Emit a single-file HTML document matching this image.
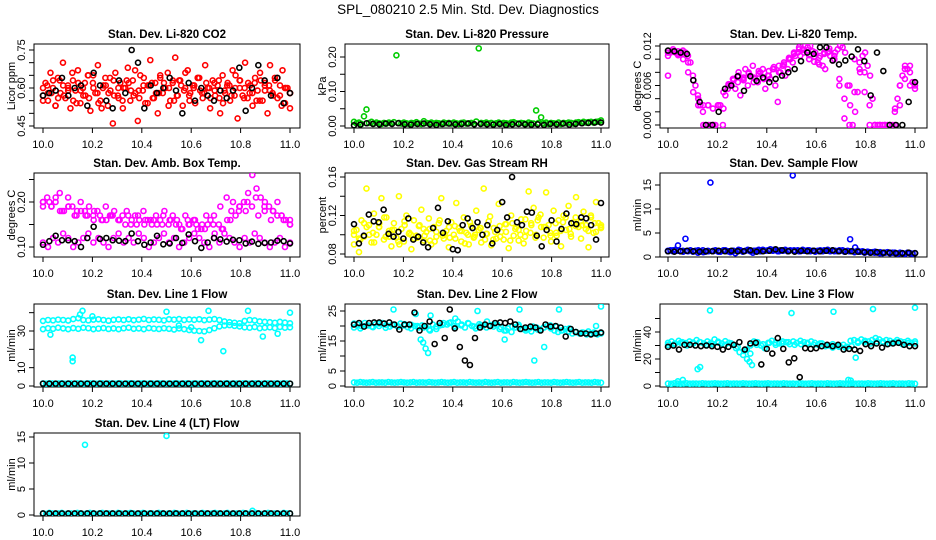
<!DOCTYPE html>
<html><head><meta charset="utf-8"><style>
html,body{margin:0;padding:0;background:#fff}
svg{display:block}
text{font-family:"Liberation Sans",Arial,sans-serif;fill:#000}
</style></head><body>
<svg id="chart" width="936" height="540" viewBox="0 0 936 540" xmlns="http://www.w3.org/2000/svg">
<text x="468" y="14" text-anchor="middle" font-size="13.5">SPL_080210  2.5 Min. Std. Dev. Diagnostics</text>
</svg>
<script>
// ---- data ----
const xTicks = [10.0,10.2,10.4,10.6,10.8,11.0];
const xTickLabels = ["10.0","10.2","10.4","10.6","10.8","11.0"];

const co2Red = [0.57,0.62,0.55,0.66,0.60,0.53,0.64,0.58,0.70,0.56,0.61,0.52,0.63,0.59,0.67,0.54,0.60,0.57,0.65,0.51,0.62,0.58,0.69,0.55,0.60,0.64,0.53,0.59,0.46,0.66,0.57,0.62,0.52,0.60,0.68,0.55,0.63,0.58,0.47,0.65,0.59,0.54,0.61,0.71,0.56,0.62,0.50,0.64,0.58,0.60,0.66,0.55,0.62,0.72,0.57,0.63,0.53,0.60,0.67,0.58,0.61,0.54,0.64,0.59,0.56,0.69,0.60,0.52,0.63,0.57,0.61,0.50,0.65,0.58,0.62,0.55,0.67,0.60,0.48,0.63,0.57,0.70,0.56,0.61,0.53,0.64,0.59,0.66,0.55,0.62,0.50,0.69,0.58,0.63,0.56,0.61,0.67,0.54,0.60,0.52];
const co2Red2 = [0.60,0.58,0.63,0.56,0.61,0.59,0.55,0.62,0.57,0.65,0.60,0.54,0.61,0.58,0.63,0.56,0.60,0.62,0.57,0.59,0.64,0.61,0.56,0.58,0.62,0.60,0.55,0.63,0.59,0.57,0.61,0.64,0.58,0.60,0.62,0.56,0.59,0.61,0.57,0.63,0.60,0.58,0.62,0.55,0.61,0.59,0.64,0.57,0.60,0.58];
const co2Red3 = [0.55,0.61,0.58,0.53,0.63,0.57,0.60,0.66,0.54,0.59,0.62,0.56,0.65,0.58,0.52,0.61,0.64,0.57,0.60,0.55,0.63,0.59,0.67,0.56,0.61,0.54,0.62,0.58,0.65,0.60,0.53,0.63,0.57,0.61,0.66,0.55,0.60,0.64,0.58,0.62,0.56,0.59,0.63,0.54,0.61,0.57,0.65,0.60,0.56,0.62,0.58,0.55,0.63,0.59,0.61,0.57,0.64,0.53,0.60,0.58];
const co2Black = [0.57,0.58,0.59,0.64,0.57,0.60,0.61,0.53,0.66,0.61,0.55,0.52,0.63,0.58,0.75,0.70,0.52,0.61,0.58,0.60,0.64,0.59,0.50,0.62,0.55,0.60,0.57,0.55,0.59,0.56,0.59,0.68,0.51,0.60,0.69,0.63,0.57,0.64,0.54,0.58];

const presGreen = [0.012,0.008,0.010,0.006,0.028,0.048,0.009,0.012,0.007,0.010,0.008,0.006,0.009,0.007,0.010,0.008,0.011,0.205,0.009,0.007,0.010,0.008,0.006,0.009,0.008,0.011,0.007,0.006,0.014,0.009,0.008,0.010,0.007,0.009,0.008,0.006,0.010,0.008,0.009,0.007,0.010,0.008,0.006,0.009,0.010,0.007,0.008,0.009,0.006,0.013,0.225,0.009,0.008,0.010,0.007,0.009,0.006,0.008,0.010,0.007,0.009,0.008,0.006,0.010,0.011,0.008,0.007,0.009,0.008,0.006,0.010,0.008,0.007,0.045,0.009,0.025,0.008,0.010,0.006,0.009,0.008,0.007,0.010,0.006,0.009,0.008,0.010,0.009,0.007,0.010,0.011,0.009,0.012,0.010,0.011,0.012,0.010,0.012,0.013,0.016];
const presBlack = [0.002,0.004,0.008,0.006,0.005,0.007,0.006,0.008,0.005,0.004,0.006,0.007,0.005,0.003,0.006,0.007,0.005,0.006,0.007,0.005,0.006,0.005,0.004,0.006,0.003,0.005,0.006,0.005,0.004,0.005,0.003,0.006,0.005,0.007,0.004,0.006,0.008,0.009,0.010,0.010];

const tempMag = [0.0075,0.011,0.0115,0.011,0.0112,0.0108,0.0113,0.011,0.0105,0.0095,0.0075,0.006,0.0045,0.003,0.002,0.000,0.003,0.000,0.0025,0.000,0.003,0.003,0.000,0.0045,0.0055,0.006,0.007,0.0055,0.0065,0.0045,0.007,0.0085,0.006,0.0075,0.009,0.007,0.0065,0.008,0.0085,0.0055,0.0075,0.007,0.0085,0.006,0.0035,0.008,0.009,0.0075,0.0085,0.010,0.0095,0.0105,0.011,0.0105,0.0115,0.012,0.0118,0.012,0.0112,0.011,0.0095,0.0105,0.009,0.0085,0.011,0.0105,0.0098,0.011,0.0115,0.012,0.0118,0.011,0.006,0.003,0.000,0.002,0.005,0.008,0.0105,0.011,0.009,0.0075,0.004,0.000,0.000,0.000,0.000,0.000,0.000,0.000,0.000,0.0025,0.004,0.006,0.0075,0.009,0.0085,0.006,0.0065,0.0055];
const tempMag2 = [0.0105,0.0112,0.0108,0.0110,0.0095,0.0068,0.0040,0.0030,0.0000,0.0000,0.0030,0.0025,0.0060,0.0068,0.0080,0.0072,0.0078,0.0065,0.0082,0.0070,0.0075,0.0088,0.0080,0.0092,0.0100,0.0108,0.0115,0.0110,0.0100,0.0104,0.0092,0.0108,0.0112,0.0100,0.0070,0.0040,0.0000,0.0050,0.0095,0.0080,0.0030,0.0000,0.0000,0.0000,0.0000,0.0000,0.0030,0.0070,0.0090,0.0065];
const tempMag3 = [0.0110,0.0112,0.0106,0.0100,0.0080,0.0050,0.0030,0.0000,0.0030,0.0000,0.0030,0.0050,0.0062,0.0070,0.0075,0.0068,0.0080,0.0072,0.0078,0.0070,0.0082,0.0085,0.0090,0.0095,0.0102,0.0110,0.0118,0.0114,0.0106,0.0096,0.0102,0.0110,0.0116,0.0105,0.0060,0.0010,0.0060,0.0100,0.0085,0.0050,0.0000,0.0000,0.0000,0.0000,0.0000,0.0020,0.0060,0.0085,0.0080,0.0060];
const tempBlack = [0.0113,0.0112,0.0110,0.0108,0.0068,0.0035,0.0000,0.0000,0.0020,0.0055,0.0060,0.0074,0.0052,0.0074,0.0067,0.0072,0.0065,0.0070,0.0075,0.0080,0.0085,0.0097,0.0110,0.0108,0.0118,0.0118,0.0098,0.0092,0.0098,0.0104,0.0115,0.0097,0.0045,0.0110,0.0082,0.0000,0.0000,0.0000,0.0035,0.0065];

const ambUpper = [0.20,0.21,0.19,0.20,0.22,0.18,0.21,0.19,0.17,0.20,0.18,0.19,0.17,0.18,0.16,0.19,0.17,0.18,0.16,0.17,0.18,0.15,0.17,0.16,0.18,0.16,0.15,0.17,0.16,0.18,0.15,0.17,0.16,0.14,0.17,0.15,0.16,0.14,0.15,0.17,0.16,0.13,0.15,0.14,0.16,0.18,0.17,0.19,0.20,0.22,0.26,0.23,0.21,0.20,0.19,0.18,0.20,0.17,0.16,0.15];
const ambUpper2 = [0.19,0.20,0.21,0.18,0.19,0.17,0.18,0.17,0.16,0.17,0.16,0.17,0.16,0.15,0.16,0.17,0.15,0.16,0.15,0.17,0.16,0.15,0.14,0.15,0.16,0.14,0.15,0.17,0.19,0.21,0.20,0.19,0.18,0.19,0.17,0.18,0.16,0.17,0.16,0.15];
const ambUpper3 = [0.20,0.19,0.18,0.19,0.18,0.17,0.18,0.16,0.17,0.16,0.17,0.15,0.16,0.16,0.15,0.16,0.15,0.16,0.15,0.14,0.15,0.14,0.16,0.18,0.20,0.21,0.19,0.18,0.17,0.16];
const ambLower = [0.11,0.10,0.12,0.11,0.13,0.12,0.10,0.11,0.12,0.13,0.11,0.12,0.11,0.10,0.12,0.13,0.11,0.12,0.11,0.13,0.12,0.10,0.11,0.12,0.13,0.11,0.12,0.10,0.11,0.12,0.13,0.12,0.11,0.10,0.12,0.11,0.13,0.12,0.11,0.10,0.12,0.11,0.13,0.12,0.11,0.10,0.11,0.12,0.10,0.11];
const ambBlack = [0.105,0.113,0.125,0.115,0.115,0.113,0.100,0.120,0.145,0.118,0.120,0.115,0.114,0.113,0.130,0.113,0.105,0.110,0.125,0.106,0.108,0.120,0.109,0.128,0.113,0.098,0.110,0.120,0.117,0.112,0.116,0.115,0.108,0.112,0.107,0.109,0.110,0.114,0.113,0.108];

const rhYellow = [0.090,0.105,0.082,0.115,0.098,0.148,0.110,0.092,0.122,0.100,0.108,0.138,0.095,0.118,0.104,0.088,0.112,0.097,0.140,0.106,0.093,0.120,0.101,0.085,0.115,0.099,0.109,0.126,0.094,0.103,0.117,0.090,0.108,0.098,0.112,0.138,0.096,0.104,0.087,0.113,0.100,0.133,0.107,0.093,0.118,0.102,0.090,0.109,0.097,0.125,0.105,0.092,0.148,0.101,0.114,0.089,0.107,0.096,0.132,0.103,0.095,0.111,0.086,0.120,0.099,0.108,0.094,0.116,0.091,0.104,0.145,0.112,0.128,0.100,0.118,0.108,0.097,0.144,0.110,0.093,0.125,0.102,0.115,0.088,0.120,0.105,0.130,0.098,0.113,0.139,0.108,0.096,0.124,0.110,0.087,0.118,0.102,0.134,0.112,0.107];
const rhYellow2 = [0.100,0.095,0.108,0.102,0.112,0.098,0.105,0.093,0.110,0.100,0.097,0.106,0.094,0.103,0.099,0.108,0.096,0.104,0.100,0.098,0.107,0.101,0.095,0.109,0.103,0.112,0.105,0.098,0.110,0.115,0.108,0.102,0.099,0.113,0.106,0.118,0.110,0.104,0.112,0.108];
const rhYellow3 = [0.104,0.096,0.112,0.100,0.092,0.108,0.118,0.098,0.105,0.090,0.114,0.102,0.096,0.110,0.099,0.106,0.093,0.115,0.101,0.097,0.109,0.104,0.091,0.113,0.100,0.107,0.095,0.119,0.103,0.098,0.111,0.094,0.106,0.100,0.116,0.102,0.097,0.121,0.108,0.099,0.112,0.104,0.118,0.101,0.109,0.114,0.106,0.120,0.103,0.110];
const rhBlack = [0.111,0.091,0.099,0.121,0.114,0.113,0.126,0.101,0.098,0.103,0.096,0.117,0.095,0.098,0.092,0.087,0.107,0.128,0.102,0.114,0.085,0.084,0.110,0.117,0.107,0.113,0.100,0.110,0.091,0.105,0.134,0.118,0.160,0.113,0.110,0.124,0.123,0.099,0.088,0.105,0.115,0.093,0.106,0.122,0.112,0.111,0.118,0.117,0.110,0.095,0.133];

const sampBlue = [1.3,1.4,1.2,1.5,2.4,1.2,1.3,3.8,1.2,1.4,1.1,1.3,0.9,1.2,1.4,1.1,1.3,15.5,1.2,1.4,1.2,1.1,1.3,1.4,1.2,1.0,1.3,0.8,1.2,1.4,1.1,1.3,1.5,1.2,0.9,1.3,1.4,1.2,1.5,1.3,1.4,1.6,1.3,1.5,1.2,1.4,1.3,1.5,1.2,1.4,17.0,1.3,1.4,1.2,1.5,1.3,1.4,1.2,1.3,1.1,1.3,1.4,1.2,1.3,1.5,1.2,1.4,1.3,1.2,1.3,1.4,1.2,1.3,3.7,1.2,2.0,1.3,1.1,1.2,1.0,1.1,0.9,1.0,1.1,0.9,1.0,0.8,0.9,1.0,0.8,0.9,0.8,0.7,0.9,0.8,0.7,0.9,0.8,0.7,0.8];
const sampBlue2 = [1.2,1.4,1.3,1.1,1.3,1.2,1.4,1.0,1.2,1.3,1.1,1.4,1.2,1.3,1.5,1.2,1.4,1.3,1.5,1.4,1.3,1.5,1.2,1.4,1.3,1.4,1.2,1.3,1.4,1.3,1.2,1.4,1.3,1.2,1.4,1.1,1.2,1.0,1.1,0.9,1.0,0.9,0.8,0.9,0.8,0.9,0.8,0.7,0.8,0.8];
const sampBlack = [1.2,1.1,1.2,1.3,1.2,1.1,1.2,1.2,1.3,1.2,1.3,1.2,1.2,1.4,1.1,1.2,1.3,1.6,1.4,1.2,1.1,1.3,1.2,1.3,1.2,1.3,1.4,1.2,1.1,1.2,1.1,1.0,0.9,1.0,0.9,0.9,0.8,0.8,0.9,0.8];

const l1Upper = [35.5,36.0,35.8,36.2,36.0,35.7,36.5,37.0,36.0,35.8,36.2,36.4,36.0,35.6,36.1,36.3,36.0,36.4,35.9,36.2,36.6,36.0,36.3,36.1,35.8,36.4,36.2,36.5,36.0,36.3,36.1,36.4,35.9,36.2,36.5,36.0,35.2,34.8,34.5,34.2,35.5,36.0,35.8,35.2,35.0,34.8,34.5,35.0,34.6,34.2];
const l1Lower = [31.0,31.5,31.2,31.8,31.4,31.0,31.6,31.2,31.8,31.5,31.0,31.3,31.6,31.1,31.4,31.0,31.5,31.8,31.2,31.4,31.0,31.6,31.3,31.1,31.5,31.2,30.8,31.4,31.0,30.5,30.2,30.0,29.8,30.5,31.5,32.5,33.0,33.2,32.8,32.5,32.0,31.8,32.2,31.5,31.8,32.0,31.6,32.2,31.8,32.0];
const l1Zero = [1.4,1.3,1.5,1.4,1.3,1.4,1.5,1.3,1.4,1.4,1.3,1.5,1.4,1.3,1.4,1.5,1.4,1.3,1.4,1.5,1.3,1.4,1.4,1.3,1.5,1.4,1.3,1.4,1.5,1.4,1.3,1.4,1.5,1.3,1.4,1.4,1.3,1.5,1.4,1.3,1.4,1.3,1.5,1.4,1.3,1.4,1.5,1.3,1.4,1.4,1.3,1.5,1.4,1.3,1.4,1.5,1.4,1.3,1.4,1.5,1.3,1.4,1.4,1.3,1.5,1.4,1.3,1.4,1.5,1.4,1.3,1.4,1.5,1.3,1.4,1.4,1.3,1.5,1.4,1.3];
const l1OutT = [10.03,10.12,10.12,10.15,10.16,10.50,10.64,10.67,10.73,10.83,10.89,11.00,10.20,10.55,10.60,10.95];
const l1OutV = [28.0,13.5,15.5,39.0,41.0,40.5,25.0,41.0,19.0,41.0,27.0,40.0,38.0,33.0,32.0,28.5];
const l1Black = [1.3,1.3,1.3,1.3,1.3,1.3,1.3,1.3,1.3,1.3,1.3,1.3,1.3,1.3,1.3,1.3,1.3,1.3,1.3,1.3,1.3,1.3,1.3,1.3,1.3,1.3,1.3,1.3,1.3,1.3,1.3,1.3,1.3,1.3,1.3,1.3,1.3,1.3,1.3,1.3];

const l2Band = [19.5,20.5,20.0,21.0,20.2,19.8,20.6,20.0,21.0,20.3,19.8,20.5,20.0,20.8,20.2,19.6,20.4,20.0,19.5,20.2,19.8,18.8,20.5,19.8,20.2,21.0,20.5,21.2,20.0,21.5,20.2,19.5,20.8,20.0,19.2,20.6,20.0,19.5,20.2,19.8,20.5,19.6,18.5,19.2,18.0,19.5,19.8,19.0,18.5,19.2,19.8,19.5,18.8,19.5,20.0,19.2,18.5,18.0,18.5,19.0,18.2,17.5,18.0,17.5,17.8,17.2,17.5,17.8,17.2,17.5];
const l2Band2 = [20.8,19.2,20.2,19.6,20.8,19.4,20.4,19.8,20.6,19.2,20.0,19.5,18.5,19.0,20.4,21.0,19.5,20.5,21.0,19.8,20.2,21.5,20.5,19.0,18.5,19.8,20.4,19.0,18.2,18.8,19.5,20.2,19.8,18.6,19.2,18.0,17.8,18.2,17.5,17.8];
const l2Zero = [1.2,1.1,1.3,1.2,1.1,1.2,1.3,1.1,1.2,1.2,1.1,1.3,1.2,1.1,1.2,1.3,1.2,1.1,1.2,1.3,1.1,1.2,1.2,1.1,1.3,1.2,1.1,1.2,1.3,1.2,1.1,1.2,1.3,1.1,1.2,1.2,1.1,1.3,1.2,1.1,1.2,1.1,1.3,1.2,1.1,1.2,1.3,1.1,1.2,1.2,1.1,1.3,1.2,1.1,1.2,1.3,1.2,1.1,1.2,1.3,1.1,1.2,1.2,1.1,1.3,1.2,1.1,1.2,1.3,1.2,1.1,1.2,1.3,1.1,1.2,1.2,1.1,1.3,1.2,1.1];
const l2OutT = [10.16,10.25,10.27,10.28,10.29,10.30,10.31,10.41,10.50,10.61,10.67,10.73,10.77,10.83,10.98,11.00];
const l2OutV = [25.5,24.0,15.5,14.5,12.5,11.0,23.5,22.5,25.0,15.5,25.5,8.5,13.0,25.5,20.0,26.5];
const l2Black = [20.5,21.0,19.8,21.0,21.2,21.2,20.8,21.2,20.5,18.8,20.5,20.5,24.5,18.5,20.0,21.5,14.0,21.0,16.0,25.5,19.2,13.0,8.5,7.0,16.0,19.5,20.5,20.0,21.0,21.2,21.0,21.5,20.5,19.0,19.5,19.8,19.5,18.5,20.5,19.8,20.0,19.5,16.5,19.0,18.0,17.5,17.5,17.2,17.5,17.8];

const l3Band = [32.0,33.0,31.5,33.5,32.5,31.8,33.0,32.2,34.0,32.5,31.5,33.0,32.0,34.5,32.8,31.5,33.2,32.0,30.5,28.0,25.0,23.0,27.0,30.0,33.0,32.5,30.0,28.0,32.0,33.5,32.0,31.5,33.0,32.5,31.0,33.0,32.0,33.5,32.5,31.5,33.0,32.0,30.5,31.5,29.5,30.0,31.0,30.0,29.5,30.5,29.0,33.5,34.0,33.0,34.5,33.5,33.0,34.0,35.5,34.5,33.0,34.0,33.5,32.5,34.0,33.0,32.5,33.5,32.0,33.0];
const l3Band2 = [30.5,31.0,32.0,30.0,31.5,32.5,30.5,31.0,32.0,30.5,31.5,29.0,26.0,24.0,30.5,31.0,32.0,30.5,31.5,32.5,30.5,31.0,32.0,30.5,31.5,30.0,28.5,29.0,28.5,29.5,32.0,32.5,31.5,33.0,32.0,31.5,32.5,31.0,32.0,31.5];
const l3Zero = [1.8,1.6,2.0,1.8,1.7,1.8,2.0,1.7,1.8,1.8,1.7,2.0,1.8,1.7,1.8,2.0,1.8,1.7,1.8,2.0,1.7,1.8,1.8,1.7,2.0,1.8,1.7,1.8,2.0,1.8,1.7,1.8,2.0,1.7,1.8,1.8,1.7,2.0,1.8,1.7,1.8,1.6,2.0,1.8,1.7,1.8,2.0,1.7,1.8,1.8,1.7,2.0,1.8,1.7,1.8,2.0,1.8,1.7,1.8,2.0,1.7,1.8,1.8,1.7,2.0,1.8,1.7,1.8,2.0,1.8,1.7,1.8,2.0,1.7,1.8,1.8,1.7,2.0,1.8,1.7];
const l3OutT = [10.12,10.13,10.17,10.32,10.33,10.34,10.50,10.67,10.73,10.76,10.83,11.00,10.04,10.06,10.74];
const l3OutV = [12.5,14.0,56.0,20.0,18.0,15.5,54.0,55.0,4.5,21.0,57.0,58.0,3.5,4.5,4.0];
const l3Black = [29.0,30.0,27.0,30.5,30.5,30.0,29.5,30.0,29.5,29.0,27.0,29.0,30.5,32.5,27.0,31.5,32.0,16.0,27.5,24.0,35.5,27.5,17.5,20.5,6.5,28.0,27.5,28.0,29.5,30.5,29.5,30.5,27.0,27.5,27.0,26.0,31.0,29.5,31.5,28.5,31.0,31.5,32.0,30.5,29.5,29.5];

const l4Zero = [0.3,0.2,0.4,0.3,0.2,0.3,0.4,0.2,0.3,0.3,0.2,0.4,0.3,0.2,0.3,0.4,0.3,0.2,0.3,0.4,0.2,0.3,0.3,0.2,0.4,0.3,0.2,0.3,0.4,0.3,0.2,0.3,0.4,0.2,0.3,0.3,0.2,0.4,0.3,0.2,0.3,0.2,0.4,0.3,0.2,0.3,0.4,0.2,0.3,0.3,0.2,0.4,0.3,0.2,0.3,0.4,0.3,0.2,0.3,0.4,0.2,0.3,0.3,0.2,0.4,0.3,0.2,0.8,0.4,0.3,0.2,0.3,0.4,0.2,0.3,0.3,0.2,0.4,0.3,0.3];
const l4OutT = [10.17,10.50];
const l4OutV = [13.5,15.2];
const l4Black = [0.3,0.3,0.3,0.3,0.3,0.3,0.3,0.3,0.3,0.3,0.3,0.3,0.3,0.3,0.3,0.3,0.3,0.3,0.3,0.3,0.3,0.3,0.3,0.3,0.3,0.3,0.3,0.3,0.3,0.3,0.3,0.3,0.3,0.3,0.3,0.3,0.3,0.3,0.3,0.3];

// ---- layout ----
const NS = "http://www.w3.org/2000/svg";
const svg = document.getElementById('chart');
const COLS = [{l:34,r:300,x0:43,x1:290,lab:11},{l:345,r:609,x0:354,x1:601,lab:322},{l:660,r:927,x0:668,x1:915,lab:637}];
const ROWS = [{t:44,b:128},{t:173,b:257},{t:304,b:387},{t:433,b:516}];

function mk(tag, attrs, parent){
  const e = document.createElementNS(NS, tag);
  for (const k in attrs) e.setAttribute(k, attrs[k]);
  (parent||svg).appendChild(e);
  return e;
}
function seriesTimes(arr){ return arr.map((v,i)=>10 + i/(arr.length-1)); }

function panel(p){
  const c = COLS[p.col], r = ROWS[p.row];
  const g = mk('g', {});
  
  
  const sx = t => c.x0 + (t-10)*(c.x1-c.x0);
  const sy = v => p.py0 + (v-p.v0)*(p.py1-p.py0)/(p.v1-p.v0);
  const clip = 'clip-' + p.name;
  const cp = mk('clipPath', {id:clip}, g);
  mk('rect', {x:c.l, y:r.t, width:c.r-c.l, height:r.b-r.t}, cp);
  const t = mk('text', {x:(c.l+c.r)/2, y:r.t-6, 'text-anchor':'middle', 'font-size':'11.5', 'font-weight':'bold'}, g);
  t.textContent = p.title;
  
  
  const box = mk('rect', {x:c.l, y:r.t, width:c.r-c.l, height:r.b-r.t, fill:'none', stroke:'#000', 'stroke-width':1}, g);
  
  
  xTicks.forEach((xv,i)=>{
    const x = sx(xv);
    mk('line', {x1:x, x2:x, y1:r.b, y2:r.b+5, stroke:'#000'}, g);
    const tl = mk('text', {x:x, y:r.b+20, 'text-anchor':'middle', 'font-size':'11'}, g);
    tl.textContent = xTickLabels[i];
    
    
  });
  p.yTicks.forEach(v=>{
    const y = sy(v);
    mk('line', {x1:c.l-5, x2:c.l, y1:y, y2:y, stroke:'#000'}, g);
  });
  p.yLabels.forEach((lab,i)=>{
    const y = sy(p.yLabelVals[i]);
    const yl = mk('text', {x:0, y:0, 'text-anchor':'middle', 'font-size':'11', transform:`translate(${c.l-9},${y}) rotate(-90)`}, g);
    yl.textContent = lab;
    
    
  });
  const ya = mk('text', {x:0, y:0, 'text-anchor':'middle', 'font-size':'11', transform:`translate(${c.lab+4},${(r.t+r.b)/2}) rotate(-90)`}, g);
  ya.textContent = p.yTitle;
  
  
  const pg = mk('g', {'clip-path':`url(#${clip})`}, g);
  p.series.forEach(s=>{
    const times = s.t || seriesTimes(s.v);
    s.v.forEach((v,i)=>{
      const pt = mk('circle', {cx:sx(times[i]), cy:sy(v), r:2.5, fill:'none', stroke:s.color, 'stroke-width':1.6}, pg);
      
      
    });
  });
}

const RED='#ff0000', GRN='#00cc00', MAG='#ff00ff', YEL='#ffff00', BLU='#0000ff', CYN='#00ffff', BLK='#000000';

panel({name:'panel-co2', title:'Stan. Dev. Li-820 CO2', col:0, row:0, yTitle:'Licor ppm', v0:0.45, v1:0.75, py0:126, py1:50,
  yTicks:[0.45,0.5,0.55,0.6,0.65,0.7,0.75], yLabels:['0.45','0.60','0.75'], yLabelVals:[0.45,0.6,0.75],
  series:[{name:'co2-red',v:co2Red,color:RED},{name:'co2-red2',v:co2Red2,color:RED},{name:'co2-red3',v:co2Red3,color:RED},{name:'co2-black',v:co2Black,color:BLK}]});
panel({name:'panel-pressure', title:'Stan. Dev. Li-820 Pressure', col:1, row:0, yTitle:'kPa', v0:0, v1:0.2, py0:126, py1:57,
  yTicks:[0,0.05,0.1,0.15,0.2], yLabels:['0.00','0.10','0.20'], yLabelVals:[0,0.1,0.2],
  series:[{name:'pressure-green',v:presGreen,color:GRN},{name:'pressure-black',v:presBlack,color:BLK}]});
panel({name:'panel-li820-temp', title:'Stan. Dev. Li-820 Temp.', col:2, row:0, yTitle:'degrees C', v0:0, v1:0.012, py0:125, py1:46,
  yTicks:[0,0.002,0.004,0.006,0.008,0.010,0.012], yLabels:['0.000','0.006','0.012'], yLabelVals:[0,0.006,0.012],
  series:[{name:'temp-magenta',v:tempMag,color:MAG},{name:'temp-magenta2',v:tempMag2,color:MAG},{name:'temp-magenta3',v:tempMag3,color:MAG},{name:'temp-black',v:tempBlack,color:BLK}]});
panel({name:'panel-amb-box-temp', title:'Stan. Dev. Amb. Box Temp.', col:0, row:1, yTitle:'degrees C', v0:0.10, v1:0.20, py0:247, py1:202,
  yTicks:[0.10,0.15,0.20,0.25], yLabels:['0.10','0.20'], yLabelVals:[0.10,0.20],
  series:[{name:'amb-upper',v:ambUpper,color:MAG},{name:'amb-upper2',v:ambUpper2,color:MAG},{name:'amb-upper3',v:ambUpper3,color:MAG},{name:'amb-lower',v:ambLower,color:MAG},{name:'amb-black',v:ambBlack,color:BLK}]});
panel({name:'panel-gas-rh', title:'Stan. Dev. Gas Stream RH', col:1, row:1, yTitle:'percent', v0:0.08, v1:0.16, py0:254, py1:177,
  yTicks:[0.08,0.10,0.12,0.14,0.16], yLabels:['0.08','0.12','0.16'], yLabelVals:[0.08,0.12,0.16],
  series:[{name:'rh-yellow',v:rhYellow,color:YEL},{name:'rh-yellow2',v:rhYellow2,color:YEL},{name:'rh-yellow3',v:rhYellow3,color:YEL},{name:'rh-black',v:rhBlack,color:BLK}]});
panel({name:'panel-sample-flow', title:'Stan. Dev. Sample Flow', col:2, row:1, yTitle:'ml/min', v0:0, v1:15, py0:257, py1:185,
  yTicks:[0,5,10,15], yLabels:['0','5','10','15'], yLabelVals:[0,5,10,15],
  series:[{name:'sample-blue',v:sampBlue,color:BLU},{name:'sample-blue2',v:sampBlue2,color:BLU},{name:'sample-black',v:sampBlack,color:BLK}]});
panel({name:'panel-line1-flow', title:'Stan. Dev. Line 1 Flow', col:0, row:2, yTitle:'ml/min', v0:0, v1:30, py0:386, py1:331,
  yTicks:[0,10,20,30,40], yLabels:['0','10','30'], yLabelVals:[0,10,30],
  series:[{name:'line1-upper',v:l1Upper,color:CYN},{name:'line1-lower',v:l1Lower,color:CYN},{name:'line1-zero',v:l1Zero,color:CYN},{name:'line1-outlier',t:l1OutT,v:l1OutV,color:CYN},{name:'line1-black',v:l1Black,color:BLK}]});
panel({name:'panel-line2-flow', title:'Stan. Dev. Line 2 Flow', col:1, row:2, yTitle:'ml/min', v0:0, v1:25, py0:386, py1:311,
  yTicks:[0,5,10,15,20,25], yLabels:['0','5','15','25'], yLabelVals:[0,5,15,25],
  series:[{name:'line2-band',v:l2Band,color:CYN},{name:'line2-band2',v:l2Band2,color:CYN},{name:'line2-zero',v:l2Zero,color:CYN},{name:'line2-outlier',t:l2OutT,v:l2OutV,color:CYN},{name:'line2-black',v:l2Black,color:BLK}]});
panel({name:'panel-line3-flow', title:'Stan. Dev. Line 3 Flow', col:2, row:2, yTitle:'ml/min', v0:0, v1:40, py0:386, py1:332,
  yTicks:[0,10,20,30,40,50], yLabels:['0','20','40'], yLabelVals:[0,20,40],
  series:[{name:'line3-band',v:l3Band,color:CYN},{name:'line3-band2',v:l3Band2,color:CYN},{name:'line3-zero',v:l3Zero,color:CYN},{name:'line3-outlier',t:l3OutT,v:l3OutV,color:CYN},{name:'line3-black',v:l3Black,color:BLK}]});
panel({name:'panel-line4-flow', title:'Stan. Dev. Line 4 (LT) Flow', col:0, row:3, yTitle:'ml/min', v0:0, v1:15, py0:515, py1:437,
  yTicks:[0,5,10,15], yLabels:['0','5','10','15'], yLabelVals:[0,5,10,15],
  series:[{name:'line4-zero',v:l4Zero,color:CYN},{name:'line4-outlier',t:l4OutT,v:l4OutV,color:CYN},{name:'line4-black',v:l4Black,color:BLK}]});
</script>
</body></html>
